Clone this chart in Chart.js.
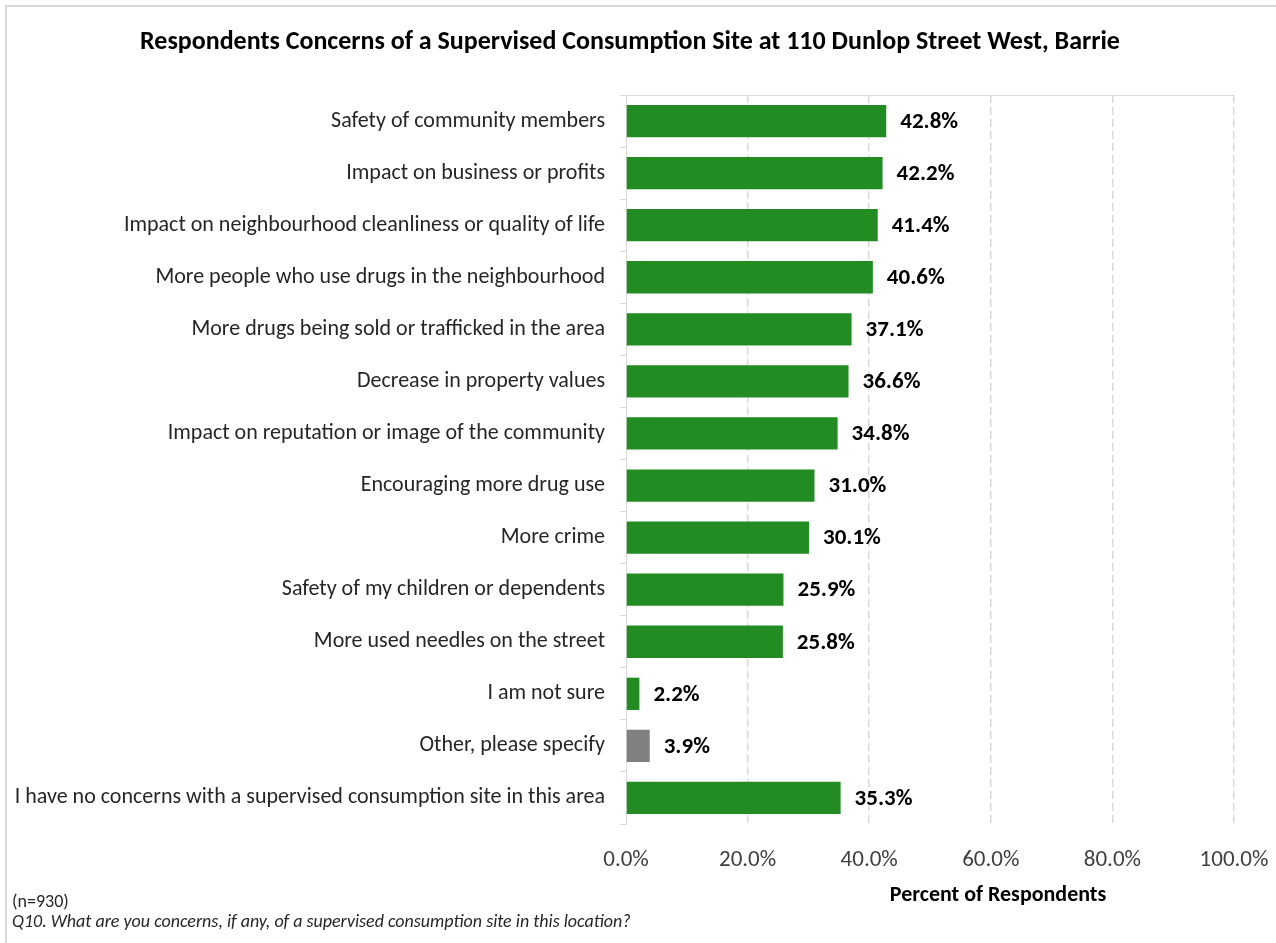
<!DOCTYPE html>
<html>
<head>
<meta charset="utf-8">
<script src="https://cdn.jsdelivr.net/npm/chart.js@4"></script>
<style>
  html,body{margin:0;padding:0;background:#fff;}
  #wrap{width:1276px;height:943px;position:relative;}
</style>
</head>
<body>
<div id="wrap"><canvas id="chart" width="1276" height="943"></canvas></div>
<script>
const categories = [
  'Safety of community members',
  'Impact on business or profits',
  'Impact on neighbourhood cleanliness or quality of life',
  'More people who use drugs in the neighbourhood',
  'More drugs being sold or trafficked in the area',
  'Decrease in property values',
  'Impact on reputation or image of the community',
  'Encouraging more drug use',
  'More crime',
  'Safety of my children or dependents',
  'More used needles on the street',
  'I am not sure',
  'Other, please specify',
  'I have no concerns with a supervised consumption site in this area'
];
const percents = [42.8, 42.2, 41.4, 40.6, 37.1, 36.6, 34.8, 31.0, 30.1, 25.9, 25.8, 2.2, 3.9, 35.3];
const xTicks = [0, 20, 40, 60, 80, 100];

const chartTitle = 'Respondents Concerns of a Supervised Consumption Site at 110 Dunlop Street West, Barrie';
const axisTitle = 'Percent of Respondents';
const noteN = '(n=930)';
const noteQ = 'Q10. What are you concerns, if any, of a supervised consumption site in this location?';

const FONT = 'Carlito, Lato, "Open Sans", sans-serif';
const GREEN = '#228B22', GREY = '#808080';

const extras = {
  id:'extras',
  beforeDraw(chart){
    const c = chart.ctx, a = chart.chartArea;
    c.save();
    // frame (only top and left edges show)
    c.strokeStyle = '#d9d9d9'; c.lineWidth = 2;
    c.strokeRect(6, 6, 1400, 1100);
    // top edge of plot
    c.lineWidth = 1;
    c.beginPath(); c.moveTo(a.left - 6, a.top + 0.5); c.lineTo(a.right, a.top + 0.5); c.stroke();
    c.restore();
  },
  afterDraw(chart){
    const c = chart.ctx;
    c.save();
    c.fillStyle = '#000';
    c.textBaseline = 'middle';
    c.textAlign = 'center';
    c.font = 'bold 26px ' + FONT;
    c.fillText(chartTitle, 630, 42);
    c.font = 'bold 22px ' + FONT;
    c.fillText(axisTitle, 998, 895);
    c.textAlign = 'left';
    c.fillStyle = '#262626';
    c.font = '18px ' + FONT;
    c.fillText(noteN, 12, 902);
    c.font = 'italic 18px ' + FONT;
    c.fillText(noteQ, 12, 922);

    // value labels
    const meta = chart.getDatasetMeta(0);
    c.fillStyle = '#000';
    c.font = 'bold 23px ' + FONT;
    meta.data.forEach((bar, i) => {
      c.fillText(percents[i].toFixed(1) + '%', bar.x + 14, bar.y + 1);
    });
    c.restore();
  }
};

new Chart(document.getElementById('chart'), {
  type:'bar',
  data:{
    labels:categories,
    datasets:[{
      data:percents,
      backgroundColor:categories.map(c => c === 'Other, please specify' ? GREY : GREEN),
      barPercentage:0.62,
      categoryPercentage:1
    }]
  },
  options:{
    indexAxis:'y',
    responsive:false,
    animation:false,
    layout:{padding:{top:95, right:42, bottom:0, left:0}},
    plugins:{legend:{display:false}, tooltip:{enabled:false}, title:{display:false}},
    scales:{
      x:{
        min:0, max:100,
        afterBuildTicks(scale){ scale.ticks = xTicks.map(v => ({value:v})); },
        afterFit(scale){ scale.height = 119; scale.paddingLeft = 0; scale.paddingRight = 0; },
        border:{display:false, dash:[8,4]},
        grid:{
          drawTicks:false,
          color:ctx => ctx.tick && ctx.tick.value === 0 ? 'rgba(0,0,0,0)' : '#d9d9d9',
          lineWidth:1.5
        },
        ticks:{
          padding:22,
          color:'#404040',
          font:{family:FONT, size:23},
          callback:v => v.toFixed(1) + '%'
        }
      },
      y:{
        afterFit(scale){ scale.width = 626; },
        border:{display:true, color:'#d9d9d9', width:1},
        grid:{
          offset:true,
          drawOnChartArea:false,
          drawTicks:true,
          tickLength:6,
          color:'#d9d9d9'
        },
        ticks:{
          padding:15,
          color:'#262626',
          font:{family:FONT, size:22}
        }
      }
    }
  },
  plugins:[extras]
});
</script>
</body>
</html>
